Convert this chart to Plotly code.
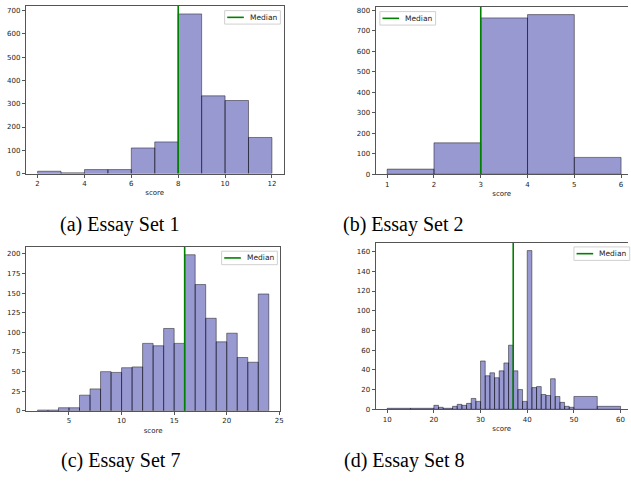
import plotly.graph_objects as go

# ---------------- data ----------------
set1_edges = [2, 3, 4, 5, 6, 7, 8, 9, 10, 11, 12]
set1_counts = [10, 3, 17, 17, 110, 136, 686, 334, 314, 155]
set1_median = 8

set2_edges = [1, 2, 3, 4, 5, 6]
set2_counts = [25, 153, 762, 778, 82]
set2_median = 3

set7_edges = list(range(2, 25))
set7_counts = [1, 1, 4, 4, 20, 28, 50, 49, 55, 56, 86, 83, 105, 86,
               199, 161, 118, 88, 99, 68, 62, 149]
set7_median = 16

set8_edges = [10, 15, 20, 21, 22] + list(range(24, 51)) + [55, 60]
set8_counts = [1, 1, 4, 2, 1,
               3, 5, 4, 6, 11, 8,
               49, 34, 37, 32, 39, 47, 65, 39, 20, 8,
               161, 22, 23, 15, 14, 31, 13, 7, 3, 2,
               13, 3]
set8_median = 37

captions = ["(a) Essay Set 1", "(b) Essay Set 2", "(c) Essay Set 7", "(d) Essay Set 8"]

x_ticks = [[2, 4, 6, 8, 10, 12], [1, 2, 3, 4, 5, 6], [5, 10, 15, 20, 25], [10, 20, 30, 40, 50, 60]]
y_ticks = [list(range(0, 701, 100)), list(range(0, 801, 100)),
           list(range(0, 201, 25)), list(range(0, 161, 20))]

# ---------------- layout constants (window pixels) ----------------
W, H = 631, 481
def px(x):
    return min(1.0, max(0.0, x / W))
def py(y):
    return min(1.0, max(0.0, 1 - y / H))

panels = [
    dict(edges=set1_edges, counts=set1_counts, median=set1_median,
         box=(26, 285, 6, 175), xr=(1.5, 12.5), mirror_y=True, leg=(225.7, 10.7)),
    dict(edges=set2_edges, counts=set2_counts, median=set2_median,
         box=(377.3, 631, 6.7, 175.7), xr=(0.75, 6.148), mirror_y=False, leg=(381.7, 11.7)),
    dict(edges=set7_edges, counts=set7_counts, median=set7_median,
         box=(26, 281.7, 249, 414.3), xr=(0.9, 25.1), mirror_y=True, leg=(222.7, 253.3)),
    dict(edges=set8_edges, counts=set8_counts, median=set8_median,
         box=(377.3, 631, 244.7, 412.7), xr=(7.5, 61.59), mirror_y=False, leg=(576.7, 249)),
]
caption_pos = [(120, 226), (405, 226), (121, 464), (406, 464)]

fig = go.Figure()
shapes = []
annotations = []

tick_font = dict(family="DejaVu Sans", size=7, color="#222")
spine = "#555"

for i, p in enumerate(panels):
    n = "" if i == 0 else str(i + 1)
    xa, ya = "x" + n, "y" + n
    edges, counts = p["edges"], p["counts"]
    centers = [(edges[k] + edges[k + 1]) / 2 for k in range(len(counts))]
    widths = [edges[k + 1] - edges[k] for k in range(len(counts))]
    ytop = max(counts) * 1.05

    fig.add_trace(go.Bar(
        x=centers, y=counts, width=widths, xaxis=xa, yaxis=ya,
        marker=dict(color="rgba(0,0,139,0.4)",
                    line=dict(color="rgba(0,0,0,0.45)", width=1)),
        showlegend=False, hoverinfo="x+y"))
    fig.add_trace(go.Scatter(
        x=[p["median"], p["median"]], y=[0, ytop], xaxis=xa, yaxis=ya,
        mode="lines", line=dict(color="green", width=1.6),
        name="Median", showlegend=False))

    l, r, t, b = p["box"]
    fig.update_layout(**{
        ("xaxis" + n): dict(
            domain=[px(l), px(r)], range=list(p["xr"]), anchor=ya,
            tickmode="array", tickvals=x_ticks[i], ticks="outside", ticklen=3,
            tickcolor=spine, tickwidth=1, showgrid=False, zeroline=False,
            showline=True, linecolor=spine, linewidth=1, mirror=True,
            tickfont=tick_font, ticklabeloverflow="allow",
            title=dict(text="score", font=dict(family="DejaVu Sans", size=7, color="#222"),
                       standoff=3)),
        ("yaxis" + n): dict(
            domain=[py(b), py(t)], range=[0, ytop], anchor=xa,
            tickmode="array", tickvals=y_ticks[i], ticks="outside", ticklen=3,
            tickcolor=spine, tickwidth=1, showgrid=False, zeroline=False,
            showline=True, linecolor=spine, linewidth=1, mirror=p["mirror_y"],
            tickfont=tick_font, ticklabeloverflow="allow"),
    })

    # legend box drawn manually
    lx, ly = p["leg"]
    shapes.append(dict(type="rect", xref="paper", yref="paper",
                       x0=px(lx), x1=lx / W + 56 / W, y0=py(ly + 13.6), y1=py(ly),
                       line=dict(color="#d0d0d0", width=1), fillcolor="rgba(255,255,255,0.85)",
                       layer="above"))
    shapes.append(dict(type="line", xref="paper", yref="paper",
                       x0=px(lx + 2.6), x1=px(lx + 19.3), y0=py(ly + 6.8), y1=py(ly + 6.8),
                       line=dict(color="green", width=1.6), layer="above"))
    annotations.append(dict(text="Median", xref="paper", yref="paper",
                            x=px(lx + 23.5), y=py(ly + 6.8), xanchor="left", yanchor="middle",
                            showarrow=False, font=dict(family="DejaVu Sans", size=7.5, color="#222")))

for cap, (cx, cy) in zip(captions, caption_pos):
    annotations.append(dict(text=cap, xref="paper", yref="paper", x=px(cx), y=py(cy),
                            xanchor="center", yanchor="middle", showarrow=False,
                            font=dict(family="Liberation Serif", size=20, color="black")))

fig.update_layout(width=W, height=H, margin=dict(l=0, r=0, t=0, b=0),
                  paper_bgcolor="white", plot_bgcolor="white", hovermode=False,
                  shapes=shapes, annotations=annotations, bargap=0)

fig.write_html("out.html",
               config={"displayModeBar": False, "staticPlot": True},
               post_script="document.body.style.margin='0';document.body.style.overflow='hidden';")
